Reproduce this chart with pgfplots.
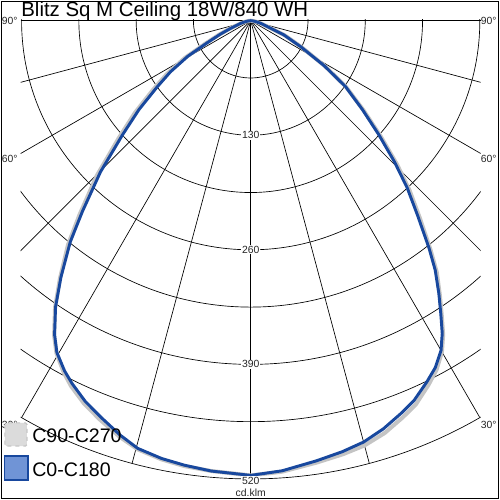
\documentclass[border=0pt]{standalone}
\usepackage{pgfplots}
\pgfplotsset{compat=1.18}
\usepackage{pgfplotstable}
\usepackage{fontspec}
\setmainfont{Liberation Sans}
\definecolor{blueline}{RGB}{24,72,158}
\definecolor{bluefill}{RGB}{112,148,214}
\definecolor{grayline}{RGB}{196,196,196}

% gamma (deg, negative = C180 side / C270 side), intensity (cd/klm)
\pgfplotstableread{
g I
-90 0
-85 2
-80 6
-75 12
-69 25
-66 38
-63 56
-60.5 82
-57.5 108
-54.7 130
-51.5 162
-48.3 195
-44.8 242
-41.4 289
-39.2 324
-36.5 362
-34.3 393
-32 420
-30.3 436
-28 450
-26.2 459
-23.5 471
-20.7 481
-17.5 493
-14.8 502
-11.5 507
-8.5 510
-5 513
-2.5 514
0 516
4 512
8.5 505
12 500
15 495
18 487
21 477
23.3 469
26 456
28 446
30 432
31.5 416
33 396
34.6 376
36.5 352
38.1 328
40.6 291
43.1 260
45.5 229
48.3 195
51.5 162
55.2 131
58.5 98
62.5 64
66.8 41
69 25
75 12
80 6
85 2
90 0
}\bluet

\pgfplotstableread{
g I
-90 0
-85 2
-80 6
-75 12
-69 26
-66 40
-63 59
-60.5 86
-57.5 113
-54.7 136
-51.5 168
-48.3 201
-44.8 248
-41.4 294
-39.2 328
-36.5 364
-34.3 394
-32 421
-30.3 437
-28 452
-26.2 462
-23.5 474
-20.7 484
-17.5 495
-14.8 503
-11.5 508
-8.5 511
-5 513
-2.5 514
0 516
4 513
8.5 507
12 503
15 499
18 492
21 482
23.3 474
26 460
28 449
30 434
31.5 418
33 398
34.6 378
36.5 355
38.1 331
40.6 295
43.1 264
45.5 233
48.3 198
51.5 164
55.2 132
58.5 99
62.5 65
66.8 42
69 25
75 12
80 6
85 2
90 0
}\grayt

\begin{document}
\begin{tikzpicture}
\useasboundingbox (-15.525pt,-14.475pt) rectangle (359.475pt,360.525pt);
\draw[line width=0.8pt] (-14.6pt,-13.6pt) rectangle (358.6pt,359.6pt);
% polar grid
\begin{scope}
\clip (0,0) rectangle (345pt,346pt);
\foreach \r in {1,...,8}
  \draw[line width=0.5pt] (172.5pt,345pt) circle[radius=\r*42.96pt];
\foreach \a in {-75,-60,...,75}
  \draw[line width=0.5pt] (172.5pt,345pt) -- ++({-90+\a}:343.7pt);
\end{scope}
\draw[line width=0.5pt] (0,345pt) -- (345pt,345pt);
\begin{axis}[
  at={(0,0)}, anchor=south west,
  width=345pt, height=345pt, scale only axis,
  xmin=-261, xmax=261, ymin=-522, ymax=0,
  hide axis, clip=false,
]
\addplot[draw=grayline, line width=3pt, line join=round, no marks]
  table[x expr={\thisrow{I}*sin(\thisrow{g})}, y expr={-\thisrow{I}*cos(\thisrow{g})}] {\grayt};
\addplot[draw=blueline, line width=2.2pt, line join=round, no marks]
  table[x expr={\thisrow{I}*sin(\thisrow{g})}, y expr={-\thisrow{I}*cos(\thisrow{g})}] {\bluet};
\end{axis}
% radial value labels
\begin{scope}[every node/.style={font=\fontsize{7.8pt}{8pt}\selectfont, text=black!85, fill=white, inner sep=0.6pt}]
\node at (172.5pt,{345pt-2*42.96pt}) {130};
\node at (172.5pt,{345pt-4*42.96pt}) {260};
\node at (172.5pt,{345pt-6*42.96pt}) {390};
\node at (172.5pt,{345pt-8*42.96pt-1.2pt}) {520};
\node[fill=none] at (172.5pt,-9.2pt) {cd.klm};
\node[fill=none] at (-8.2pt,345pt) {90°};
\node[fill=none] at (-8.2pt,241.3pt) {60°};
\node[fill=none] at (-8.2pt,41.8pt) {30°};
\node[fill=none] at (351pt,345pt) {90°};
\node[fill=none] at (351pt,241.3pt) {60°};
\node[fill=none] at (351pt,41.8pt) {30°};
\end{scope}
% title
\node[anchor=base west, inner sep=0, font=\fontsize{15.3pt}{17pt}\selectfont] at (0.3pt,347.8pt) {Blitz Sq M Ceiling 18W/840 WH};
% legend
\draw[fill=gray!28, draw=gray!45, dashed, line width=0.8pt, rounded corners=1pt] (-11.8pt,26pt) rectangle (4.7pt,43.3pt);
\draw[fill=bluefill, draw=blueline, line width=1pt] (-12.3pt,0.6pt) rectangle (5.4pt,18.4pt);
\node[anchor=base west, inner sep=0, font=\fontsize{14.7pt}{16pt}\selectfont] at (8.5pt,29pt) {C90-C270};
\node[anchor=base west, inner sep=0, font=\fontsize{14.7pt}{16pt}\selectfont] at (8.5pt,3.5pt) {C0-C180};
\end{tikzpicture}
\end{document}
